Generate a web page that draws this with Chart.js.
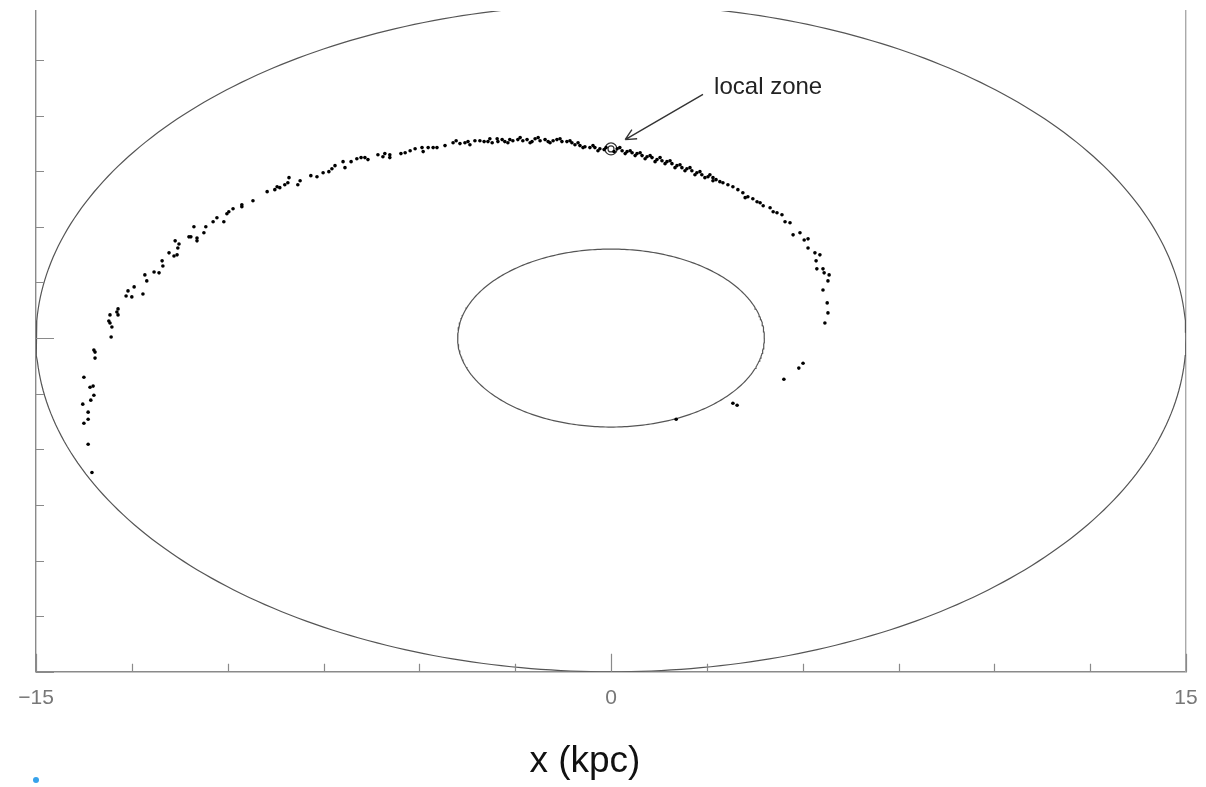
<!DOCTYPE html>
<html>
<head>
<meta charset="utf-8">
<script src="https://cdn.jsdelivr.net/npm/chart.js@4"></script>
<style>
  html, body { margin: 0; padding: 0; background: #fff; }
  #wrap { width: 1206px; height: 787px; }
</style>
</head>
<body>
<div id="wrap"><canvas id="galaxy"></canvas></div>
<script>
// spiral arm sources, x / y in kpc
const armX = [
  -13.54, -13.64, -13.75, -13.64, -13.64, -13.78, -13.57, -13.49, -13.59, -13.51,
  -13.75, -13.46, -13.46, -13.49, -13.04, -13.02, -13.07, -13.10, -13.07, -12.86,
  -12.89, -12.86, -12.65, -12.60, -12.50, -12.44, -12.21, -12.16, -12.11, -11.92,
  -11.79, -11.71, -11.69, -11.53, -11.40, -11.32, -11.37, -11.30, -11.27, -11.01,
  -10.96, -10.88, -10.80, -10.80, -10.62, -10.57, -10.38, -10.28, -10.10, -10.02,
  -9.97, -9.86, -9.63, -9.63, -9.34, -8.97, -8.77, -8.71, -8.64, -8.51,
  -8.43, -8.40, -8.17, -8.11, -7.83, -7.67, -7.51, -7.36,
  -7.28, -7.20, -6.99, -6.94, -6.78, -6.63, -6.52, -6.42, -6.34, -6.08,
  -5.95, -5.90, -5.77, -5.77, -5.48, -5.37, -5.24, -5.11, -4.93, -4.90,
  -4.77, -4.64, -4.54, -4.12, -3.94, -3.81, -3.73, -3.55, -3.42, -3.31,
  -3.21, -3.10, -2.97, -2.95, -2.84, -2.77, -2.64, -2.56, -2.43, -2.30,
  -2.19, -2.06, -1.98, -1.85, -1.72, -1.64, -1.51, -1.41, -1.28, -1.15,
  -1.02, -0.94, -0.81, -0.68, -0.55, -0.42, -0.29, -0.18, 0.16, 0.29,
  0.42, 0.55, 0.68, 0.81, 0.94, 1.07, 1.20, 1.33, 1.46, 1.59,
  1.72, 1.85, 1.98, 2.11, 2.24, 2.37, 2.53, 2.66,
  2.66, 2.84, 2.92, 3.05, 3.18, 3.31, 3.44, 3.50, 3.57, 3.70,
  3.81, 3.89, 3.97, 4.15, 4.23, 4.33, 4.46, 4.54, 4.67, 4.75,
  4.93, 5.04, 5.14, 5.14, 5.32, 5.45, 5.35, 5.37, 5.53, 5.56,
  5.69, 5.66, 5.53, 5.64, 5.66, 5.58, 5.01, 4.90, 4.51, 3.18,
  3.29, 1.70
];
const armY = [
  -6.04, -4.77, -3.83, -3.65, -3.33, -2.97, -2.79, -2.57, -2.21, -2.16,
  -1.76, -0.90, -0.63, -0.54, 0.05, 0.50, 0.68, 0.77, 1.04, 1.04,
  1.17, 1.31, 1.89, 2.12, 1.85, 2.30, 1.98, 2.84, 2.57, 2.97,
  2.93, 3.47, 3.24, 3.83, 3.69, 3.74, 4.37, 4.05, 4.23, 4.55,
  4.55, 5.00, 4.37, 4.50, 4.73, 5.00, 5.23, 5.41, 5.23, 5.59,
  5.68, 5.81, 5.90, 5.99, 6.17, 6.58, 6.67, 6.80, 6.76, 6.89,
  6.98, 7.21, 6.89, 7.07, 7.30, 7.25, 7.43, 7.48,
  7.61, 7.75, 7.93, 7.66, 7.93, 8.06, 8.11, 8.11, 8.02, 8.24,
  8.15, 8.29, 8.11, 8.24, 8.29, 8.33, 8.42, 8.51, 8.56, 8.38,
  8.56, 8.56, 8.56, 8.78, 8.74, 8.78, 8.83, 8.87, 8.87, 8.83,
  8.83, 8.78, 8.96, 8.83, 8.92, 8.83, 8.92, 8.87, 8.92, 8.87,
  8.92, 8.83, 8.96, 8.87, 8.92, 8.83, 8.87, 8.92, 8.83, 8.83,
  8.78, 8.69, 8.65, 8.60, 8.56, 8.56, 8.51, 8.47, 8.51, 8.42,
  8.38, 8.33, 8.29, 8.20, 8.15, 8.11, 8.02, 7.97, 7.93, 7.84,
  7.75, 7.66, 7.61, 7.52, 7.43, 7.34, 7.25, 7.21,
  7.07, 7.03, 6.98, 6.89, 6.80, 6.67, 6.53, 6.31, 6.35, 6.26,
  6.13, 6.08, 5.95, 5.86, 5.68, 5.63, 5.54, 5.23, 5.18, 4.64,
  4.73, 4.41, 4.46, 4.05, 3.83, 3.74, 3.47, 3.11, 3.11, 2.93,
  2.84, 2.57, 2.16, 1.58, 1.13, 0.68, -1.13, -1.35, -1.85, -2.93,
  -3.02, -3.65
];

// extra sources in the crowded stretch around the local zone
const bandX = [
  -2.37, -2.11, -1.90, -1.59, -1.33, -1.07, -0.86, -0.73, -0.47, -0.34,
  -0.13, 0.08, 0.23, 0.37, 0.50, 0.63, 0.76, 0.89, 1.02, 1.15,
  1.28, 1.41, 1.54, 1.67, 1.80, 1.93, 2.06, 2.19, 2.32, 2.45,
  2.58, 2.74, -4.33, -4.04, -3.68, -3.16, -2.69
];
const bandY = [
  9.01, 8.78, 9.01, 8.78, 8.96, 8.87, 8.78, 8.56, 8.65, 8.42,
  8.56, 8.38, 8.56, 8.29, 8.42, 8.20, 8.33, 8.06, 8.20, 7.93,
  8.11, 7.84, 7.97, 7.66, 7.79, 7.52, 7.66, 7.34, 7.48, 7.21,
  7.34, 7.12, 8.65, 8.87, 8.69, 8.96, 8.78
];

const ringRadii = [4, 15];          // kpc
const localZone = [0, 8.5];
const arrowFrom = [2.40, 10.95];
const arrowTo = [0.37, 8.92];
const noteAt = [2.69, 11.26];
const noteText = 'local zone';
const xLabelled = [-15, 0, 15];
const yMajor = [-15, 0];
const xTitle = 'x (kpc)';

const FONT = '"Liberation Sans", Arial, sans-serif';
const AXIS = '#8a8a8a';

function zip(xs, ys) {
    return xs.map((x, i) => ({ x: x, y: ys[i] }));
}

function ring(r) {
    const pts = [];
    for (let k = 0; k <= 360; k++) {
        const t = k * Math.PI / 180;
        pts.push({ x: r * Math.cos(t), y: r * Math.sin(t) });
    }
    return pts;
}

const decorations = {
    id: 'decorations',
    afterDraw(chart) {
        const { ctx, chartArea: a, scales: { x, y } } = chart;
        ctx.save();

        // inward tick marks
        ctx.strokeStyle = AXIS;
        ctx.lineWidth = 1.2;
        ctx.beginPath();
        x.ticks.forEach(t => {
            if (Math.abs(t.value / 2.5 - Math.round(t.value / 2.5)) > 1e-6) return;
            const px = Math.round(x.getPixelForValue(t.value)) + 0.5;
            const len = xLabelled.includes(t.value) ? 18 : 8;
            ctx.moveTo(px, a.bottom);
            ctx.lineTo(px, a.bottom - len);
        });
        y.ticks.forEach(t => {
            if (Math.abs(t.value / 2.5 - Math.round(t.value / 2.5)) > 1e-6) return;
            const py = Math.round(y.getPixelForValue(t.value)) + 0.5;
            const len = yMajor.includes(t.value) ? 18 : 8;
            ctx.moveTo(a.left, py);
            ctx.lineTo(a.left + len, py);
        });
        ctx.stroke();

        // arrow to the local zone
        const x0 = x.getPixelForValue(arrowFrom[0]), y0 = y.getPixelForValue(arrowFrom[1]);
        const x1 = x.getPixelForValue(arrowTo[0]), y1 = y.getPixelForValue(arrowTo[1]);
        const ang = Math.atan2(y1 - y0, x1 - x0);
        ctx.strokeStyle = '#333';
        ctx.lineWidth = 1.4;
        ctx.beginPath();
        ctx.moveTo(x0, y0);
        ctx.lineTo(x1, y1);
        ctx.moveTo(x1, y1);
        ctx.lineTo(x1 - 12 * Math.cos(ang - 0.45), y1 - 12 * Math.sin(ang - 0.45));
        ctx.moveTo(x1, y1);
        ctx.lineTo(x1 - 12 * Math.cos(ang + 0.45), y1 - 12 * Math.sin(ang + 0.45));
        ctx.stroke();

        ctx.fillStyle = '#222';
        ctx.font = '24px ' + FONT;
        ctx.textAlign = 'left';
        ctx.textBaseline = 'middle';
        ctx.fillText(noteText, x.getPixelForValue(noteAt[0]), y.getPixelForValue(noteAt[1]));

        // axis title
        ctx.fillStyle = '#111';
        ctx.font = '37px ' + FONT;
        ctx.textAlign = 'center';
        ctx.fillText(xTitle, x.getPixelForValue(-0.68), 762);

        // stray marker under the axis
        ctx.fillStyle = '#36a2eb';
        ctx.beginPath();
        ctx.arc(36, 780, 3, 0, Math.PI * 2);
        ctx.fill();

        ctx.restore();
    }
};

const ctx = document.getElementById('galaxy').getContext('2d');

new Chart(ctx, {
    type: 'scatter',
    data: {
        datasets: [
            {
                label: 'arm',
                data: zip(armX, armY).concat(zip(bandX, bandY)),
                backgroundColor: '#000',
                borderColor: '#000',
                borderWidth: 0,
                pointRadius: 1.8,
                pointHoverRadius: 1.8
            },
            {
                label: 'local zone',
                data: [{ x: localZone[0], y: localZone[1] }, { x: localZone[0], y: localZone[1] }],
                backgroundColor: 'rgba(0,0,0,0)',
                borderColor: '#333',
                borderWidth: 1.2,
                pointRadius: [6, 3],
                pointHoverRadius: [6, 3]
            }
        ].concat(ringRadii.map(r => ({
            label: 'r = ' + r,
            data: ring(r),
            showLine: true,
            borderColor: '#555',
            borderWidth: 1.2,
            pointRadius: 0,
            pointHoverRadius: 0,
            fill: false
        })))
    },
    options: {
        responsive: true,
        maintainAspectRatio: false,
        devicePixelRatio: 1,
        animation: false,
        events: [],
        layout: { padding: { left: 36, right: 20, top: 11, bottom: 62 } },
        plugins: {
            legend: { display: false },
            tooltip: { enabled: false }
        },
        scales: {
            x: {
                type: 'linear',
                min: -15,
                max: 15,
                grid: { display: false, drawTicks: false },
                border: { display: true, color: AXIS, width: 1.4 },
                ticks: {
                    stepSize: 2.5,
                    autoSkip: false,
                    maxRotation: 0,
                    padding: 14,
                    color: '#777',
                    font: { family: FONT, size: 21 },
                    callback: v => xLabelled.includes(v) ? String(v).replace('-', '\u2212') : ''
                },
                // the end labels may overhang; let the layout padding decide
                afterFit: s => { s.paddingLeft = 0; s.paddingRight = 0; }
            },
            y: {
                type: 'linear',
                min: -15,
                max: 14.7,
                grid: { display: false, drawTicks: false },
                border: { display: true, color: AXIS, width: 1.4 },
                ticks: { display: false, stepSize: 2.5 }
            },
            y2: {
                type: 'linear',
                position: 'right',
                min: -15,
                max: 14.7,
                grid: { display: false, drawTicks: false },
                border: { display: true, color: '#aaa', width: 1.4 },
                ticks: { display: false }
            }
        }
    },
    plugins: [decorations]
});
</script>
</body>
</html>
